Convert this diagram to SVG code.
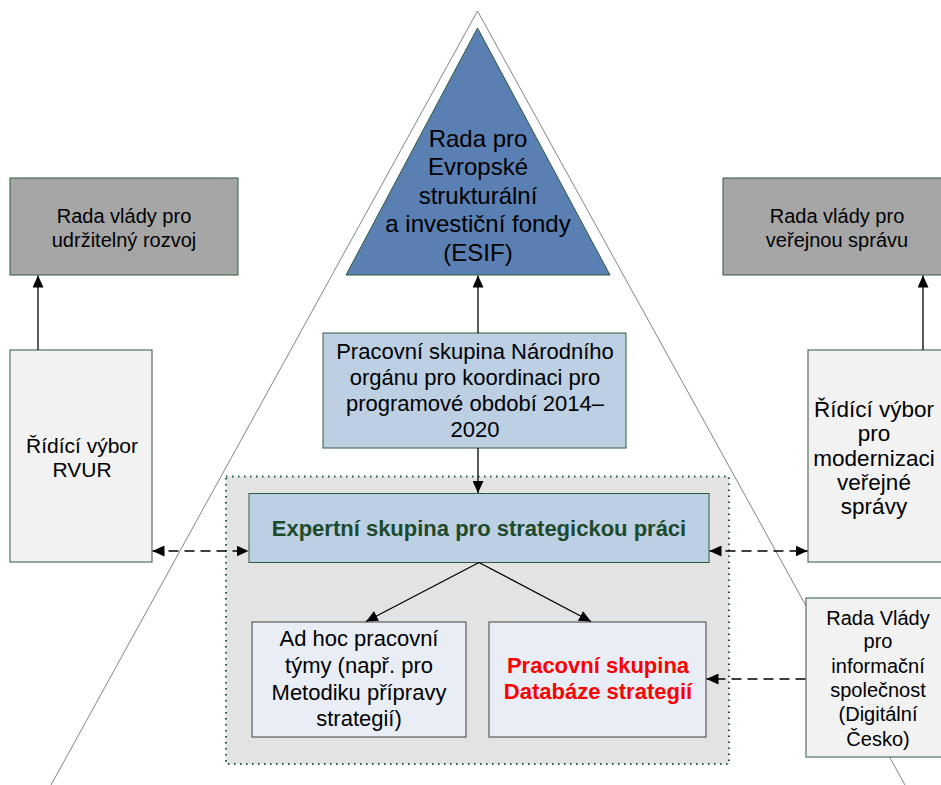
<svg xmlns="http://www.w3.org/2000/svg" width="941" height="785" viewBox="0 0 941 785">
<style>
text{font-family:"Liberation Sans",Arial,sans-serif;fill:#000;text-anchor:middle}
.t24{font-size:24px}
.t22{font-size:22px}
.t20{font-size:20px}
.t21{font-size:21px}
.t225{font-size:22.5px}
.b{font-weight:bold}
.box{stroke:#2f5a3c;stroke-width:1}
.gray{fill:#a6a6a6}
.light{fill:#f2f2f2}
.blue{fill:#bccfe3}
.pale{fill:#e9eef6;stroke:#404040;stroke-width:1}
.con{stroke:#000;stroke-width:1.3;fill:none}
.dash{stroke-dasharray:10 6}
</style>
<defs>
<marker id="ah" markerUnits="userSpaceOnUse" markerWidth="12" markerHeight="11" refX="12" refY="5.5" orient="auto-start-reverse">
<path d="M0,0 L12,5.5 L0,11 z" fill="#000"/>
</marker>
</defs>
<rect width="941" height="785" fill="#fff"/>
<g id="pyramid-outline">
<path d="M51,785 L477.5,11 L905,785" fill="none" stroke="#777" stroke-width="0.9"/>
</g>
<g id="container">
<rect x="226" y="476.5" width="503" height="287.5" fill="#e3e3e3" stroke="#1f5f3a" stroke-width="2" stroke-dasharray="1.5 4.5"/>
</g>
<g id="esif">
<polygon points="477.5,28 346,275 610,275" fill="#5a7fb3" stroke="#2f5a3c" stroke-width="1"/>
<text class="t24"><tspan x="478" y="146.5">Rada pro</tspan><tspan x="478" y="175">Evropské</tspan><tspan x="478" y="203.5">strukturální</tspan><tspan x="478" y="232">a investiční fondy</tspan><tspan x="478" y="261">(ESIF)</tspan></text>
</g>
<g id="rvur-council">
<rect class="box gray" x="10" y="178" width="228" height="97"/>
<text class="t20"><tspan x="124" y="223">Rada vlády pro</tspan><tspan x="124" y="247">udržitelný rozvoj</tspan></text>
</g>
<g id="public-admin-council">
<rect class="box gray" x="723" y="178" width="228" height="97"/>
<text class="t20"><tspan x="837" y="223">Rada vlády pro</tspan><tspan x="837" y="247">veřejnou správu</tspan></text>
</g>
<g id="rvur-committee">
<rect class="box light" x="10" y="350" width="142" height="212"/>
<text class="t21"><tspan x="82" y="453">Řídící výbor</tspan><tspan x="82" y="477">RVUR</tspan></text>
</g>
<g id="modernization-committee">
<rect class="box light" x="808" y="350" width="142" height="212"/>
<text class="t225"><tspan x="874" y="417">Řídící výbor</tspan><tspan x="874" y="441">pro</tspan><tspan x="874" y="466">modernizaci</tspan><tspan x="874" y="490">veřejné</tspan><tspan x="874" y="514">správy</tspan></text>
</g>
<g id="national-body">
<rect class="box blue" x="323" y="333" width="303" height="115"/>
<text class="t22"><tspan x="475" y="359">Pracovní skupina Národního</tspan><tspan x="475" y="385">orgánu pro koordinaci pro</tspan><tspan x="475" y="411">programové období 2014–</tspan><tspan x="475" y="437">2020</tspan></text>
</g>
<g id="expert-group">
<rect class="box blue" x="249" y="493.5" width="460" height="69"/>
<text class="t22 b" x="479" y="536" style="fill:#1e4a2c">Expertní skupina pro strategickou práci</text>
</g>
<g id="adhoc-teams">
<rect class="pale" x="252" y="622" width="214" height="115"/>
<text class="t22"><tspan x="359" y="646">Ad hoc pracovní</tspan><tspan x="359" y="673">týmy (např. pro</tspan><tspan x="359" y="700">Metodiku přípravy</tspan><tspan x="359" y="726">strategií)</tspan></text>
</g>
<g id="strategy-database">
<rect class="pale" x="489" y="622" width="217" height="115"/>
<text class="t22 b" style="fill:#ff0000"><tspan x="598" y="673" style="fill:#ff0000">Pracovní skupina</tspan><tspan x="598" y="699" style="fill:#ff0000">Databáze strategií</tspan></text>
</g>
<g id="info-society-council">
<rect class="box light" x="806" y="598" width="144" height="159"/>
<text class="t20"><tspan x="878" y="624.5">Rada Vlády</tspan><tspan x="878" y="648">pro</tspan><tspan x="878" y="672.5">informační</tspan><tspan x="878" y="696.5">společnost</tspan><tspan x="878" y="721">(Digitální</tspan><tspan x="878" y="745.5">Česko)</tspan></text>
</g>
<g id="connectors">
<line class="con" x1="38" y1="350" x2="38" y2="275.5" marker-end="url(#ah)"/>
<line class="con" x1="923" y1="350" x2="923" y2="275.5" marker-end="url(#ah)"/>
<line class="con" x1="478" y1="333" x2="478" y2="275.5" marker-end="url(#ah)"/>
<line class="con" x1="478" y1="448" x2="478" y2="493" marker-end="url(#ah)"/>
<line class="con" x1="479" y1="562.5" x2="366" y2="621.5" marker-end="url(#ah)"/>
<line class="con" x1="479" y1="562.5" x2="591" y2="621.5" marker-end="url(#ah)"/>
<line class="con dash" x1="152.5" y1="551" x2="248.5" y2="551" marker-start="url(#ah)" marker-end="url(#ah)"/>
<line class="con dash" x1="709.5" y1="551" x2="807.5" y2="551" marker-start="url(#ah)" marker-end="url(#ah)"/>
<line class="con dash" x1="805.5" y1="679" x2="706.5" y2="679" marker-end="url(#ah)"/>
</g>
</svg>
